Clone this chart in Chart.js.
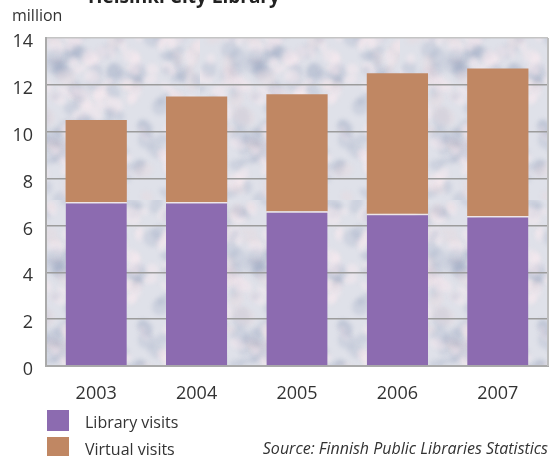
<!DOCTYPE html>
<html lang="en">
<head>
    <meta charset="UTF-8">
    <title>Helsinki City Library</title>
    <script src="https://cdn.jsdelivr.net/npm/chart.js"></script>
    <style>
        body { margin: 0; background: #fff; }
    </style>
</head>
<body>
<canvas id="visitsChart" width="554" height="456"></canvas>

<script>
    // values, million visits
    const years = ['2003', '2004', '2005', '2006', '2007'];
    const libraryVisits = [7.0, 7.0, 6.6, 6.5, 6.4];
    const virtualVisits = [3.5, 4.5, 5.0, 6.0, 6.3];
    const seriesNames = ['Library visits', 'Virtual visits'];

    const purple = '#8c6bb0';
    const brown = '#c08763';
    const font = '"Open Sans", "Noto Sans", sans-serif';

    // stone-like background texture for the plot area (decoration only)
    function makeTexture(ctx) {
        const c = document.createElement('canvas');
        c.width = 200; c.height = 200;
        const g = c.getContext('2d');
        g.fillStyle = '#dfe1e9';
        g.fillRect(0, 0, 200, 200);
        g.filter = 'blur(2px)';
        let seed = 11;
        const next = () => { seed = (seed * 16807) % 2147483647; return seed / 2147483647; };
        for (let i = 0; i < 260; i++) {
            const x = next() * 200, y = next() * 200;
            const rx = 4 + next() * 8, ry = 3 + next() * 6;
            g.beginPath();
            g.ellipse(x, y, rx, ry, next() * Math.PI, 0, Math.PI * 2);
            const r = next();
            g.fillStyle = r < 0.45 ? 'rgba(130,145,175,0.18)'
                        : r < 0.8 ? 'rgba(250,236,240,0.45)'
                        : 'rgba(235,215,220,0.3)';
            g.fill();
        }
        return ctx.createPattern(c, 'repeat');
    }

    const plotBackground = {
        id: 'plotBackground',
        beforeDraw(chart) {
            const {ctx, chartArea: a} = chart;
            ctx.save();
            ctx.fillStyle = makeTexture(ctx);
            ctx.fillRect(a.left, a.top, a.right - a.left, a.bottom - a.top);
            ctx.restore();
        }
    };

    // title, unit, right border, legend and source
    const extras = {
        id: 'extras',
        afterDraw(chart) {
            const {ctx, chartArea: a} = chart;
            ctx.save();
            ctx.strokeStyle = '#bdbdbd';
            ctx.lineWidth = 2;
            ctx.beginPath();
            ctx.moveTo(a.right, a.top);
            ctx.lineTo(a.right, a.bottom);
            ctx.stroke();

            ctx.fillStyle = '#222';
            ctx.font = 'bold 19px ' + font;
            ctx.textBaseline = 'alphabetic';
            ctx.fillText('Helsinki City Library', 88, 3);

            ctx.fillStyle = '#333';
            ctx.font = '16px ' + font;
            ctx.textBaseline = 'middle';
            ctx.fillText('million', 12, 16);

            chart.data.datasets.forEach((ds, i) => {
                const y = a.bottom + 44 + i * 27;
                ctx.fillStyle = ds.backgroundColor;
                ctx.fillRect(47, y, 22, 21);
                ctx.fillStyle = '#333';
                ctx.font = '16px ' + font;
                ctx.fillText(ds.label, 85, y + 13);
            });

            ctx.font = 'italic 16px ' + font;
            ctx.textAlign = 'right';
            ctx.fillText('Source: Finnish Public Libraries Statistics', 548, a.bottom + 83);
            ctx.restore();
        }
    };

    const ctx = document.getElementById('visitsChart').getContext('2d');
    new Chart(ctx, {
        type: 'bar',
        data: {
            labels: years,
            datasets: [{
                label: seriesNames[0],
                data: libraryVisits,
                backgroundColor: purple,
                borderColor: '#eee6e8',
                borderWidth: {top: 1.5, left: 0, right: 0, bottom: 0},
                borderSkipped: false
            }, {
                label: seriesNames[1],
                data: virtualVisits,
                backgroundColor: brown,
                borderWidth: 0
            }]
        },
        options: {
            responsive: false,
            animation: false,
            layout: { padding: {top: 38, right: 6, left: 0, bottom: 0} },
            plugins: {
                legend: { display: false },
                tooltip: { enabled: false }
            },
            datasets: {
                bar: { barPercentage: 0.61, categoryPercentage: 1 }
            },
            scales: {
                x: {
                    stacked: true,
                    grid: { display: false },
                    border: { display: true, color: '#aaa', width: 2 },
                    ticks: { color: '#333', font: {family: font, size: 18}, padding: 9 },
                    afterFit: s => { s.height = 90; }
                },
                y: {
                    stacked: true,
                    min: 0,
                    max: 14,
                    ticks: { stepSize: 2, color: '#333', font: {family: font, size: 18}, padding: 13, labelOffset: 4 },
                    grid: {
                        drawTicks: false,
                        lineWidth: 1.5,
                        color: c => c.tick && c.tick.value === 14 ? '#c4c4c4' : '#9c9c9c'
                    },
                    border: { display: true, color: '#aaa', width: 2 },
                    afterFit: s => { s.width = 46; }
                }
            }
        },
        plugins: [plotBackground, extras]
    });
</script>
</body>
</html>
